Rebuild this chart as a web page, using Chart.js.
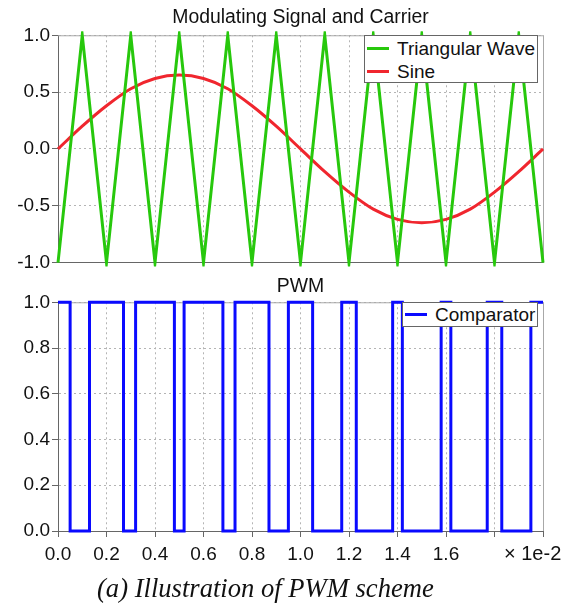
<!DOCTYPE html>
<html>
<head>
<meta charset="utf-8">
<script src="https://cdn.jsdelivr.net/npm/chart.js@4/dist/chart.umd.min.js"></script>
<style>
  html, body { margin:0; padding:0; background:#fff; width:574px; height:606px; overflow:hidden; }
  .box { position:absolute; left:0; width:601px; }
  .legend { position:absolute; background:#fff; border:1px solid #666; font:19px 'Liberation Sans', Arial, sans-serif; color:#111; box-sizing:border-box; }
  .legend .row { display:flex; align-items:center; height:23px; white-space:nowrap; }
  .legend .swatch { width:22px; height:3px; margin:0 8px 0 2px; }
  #mult { position:absolute; left:504px; top:542px; font:20px 'Liberation Sans', Arial, sans-serif; color:#111; line-height:22px; }
  #caption { position:absolute; left:97px; top:573px; font:italic 26.6px 'Liberation Serif', 'Times New Roman', serif; line-height:30px; color:#111; white-space:nowrap; }
</style>
</head>
<body>
<div class="box" style="top:0;height:276px"><canvas id="carrierChart"></canvas></div>
<div class="box" style="top:270px;height:302px"><canvas id="pwmChart"></canvas></div>
<div id="legTop" class="legend" style="left:364px;top:35px;width:174px;height:48px;padding-top:1px"></div>
<div id="legBot" class="legend" style="left:402px;top:302px;width:136px;height:25px;padding-top:0"></div>
<div id="mult">× 1e-2</div>
<div id="caption">(a) Illustration of PWM scheme</div>
<script>
// time axis is in units of 1e-2 s
const triX = [0, 0.1, 0.2, 0.3, 0.4, 0.5, 0.6, 0.7, 0.8, 0.9, 1.0, 1.1, 1.2, 1.3, 1.4, 1.5, 1.6, 1.7, 1.8, 1.9, 2.0];
const triY = [-1, 1, -1, 1, -1, 1, -1, 1, -1, 1, -1, 1, -1, 1, -1, 1, -1, 1, -1, 1, -1];
const sineX = [0, 0.1, 0.2, 0.3, 0.4, 0.5, 0.6, 0.7, 0.8, 0.9, 1.0, 1.1, 1.2, 1.3, 1.4, 1.5, 1.6, 1.7, 1.8, 1.9, 2.0];
const sineY = [0, 0.20, 0.38, 0.53, 0.62, 0.65, 0.62, 0.53, 0.38, 0.20, 0, -0.20, -0.38, -0.53, -0.62, -0.65, -0.62, -0.53, -0.38, -0.20, 0];
// comparator switching instants and the level that starts there
const pwmX = [0, 0.05, 0.13, 0.27, 0.32, 0.48, 0.52, 0.68, 0.73, 0.87, 0.95, 1.05, 1.17, 1.23, 1.38, 1.42, 1.58, 1.62, 1.77, 1.83, 1.95, 2.0];
const pwmY = [1, 0, 1, 0, 1, 0, 1, 0, 1, 0, 1, 0, 1, 0, 1, 0, 1, 0, 1, 0, 1, 1];
const xTicks = [0, 0.2, 0.4, 0.6, 0.8, 1.0, 1.2, 1.4, 1.6];

const FONT = { family:"'Liberation Sans', Arial, sans-serif", size:19 };
const pts = (xs, ys) => xs.map((x, i) => ({ x:x, y:ys[i] }));

// top and right edge of the plot frame
const frame = {
  id:'frame',
  beforeDatasetsDraw(chart) {
    const a = chart.chartArea, c = chart.ctx;
    c.save();
    c.strokeStyle = '#a8a8a8'; c.lineWidth = 1;
    c.beginPath();
    c.moveTo(a.left, a.top + 0.5); c.lineTo(a.right + 0.5, a.top + 0.5); c.lineTo(a.right + 0.5, a.bottom);
    c.stroke();
    c.restore();
  }
};

function axisX(showLabels) {
  return {
    type:'linear', min:0, max:2,
    afterBuildTicks: s => { s.ticks = [0,0.2,0.4,0.6,0.8,1.0,1.2,1.4,1.6,1.8,2.0].map(v => ({ value:v })); },
    afterFit: s => { s.height = showLabels ? 41 : 0; },
    ticks:{ display:showLabels, font:FONT, color:'#111', padding:6, maxRotation:0, autoSkip:false,
      callback: v => xTicks.some(t => Math.abs(t - v) < 1e-9) ? v.toFixed(1) : '' },
    grid:{ color:'#b4b4b4', drawTicks:showLabels, tickLength:6, tickColor:'#666', tickBorderDash:[] },
    border:{ display:true, color:'#666', width:1, dash:[2,3] }
  };
}
function axisY(min, max, step) {
  return {
    min:min, max:max,
    afterFit: s => { s.width = 58; },
    ticks:{ stepSize:step, font:FONT, color:'#111', padding:2, callback: v => v.toFixed(1) },
    grid:{ color:'#b4b4b4', tickLength:6, tickColor:'#666', tickBorderDash:[] },
    border:{ display:true, color:'#666', width:1, dash:[2,3] }
  };
}
// empty right-hand axis, keeps the title centred over the plot
const spacer = { position:'right', afterFit: s => { s.width = 58; }, ticks:{ display:false }, grid:{ display:false }, border:{ display:false } };
function title(text, top, bottom) {
  return { display:true, text:text, font:{ family:FONT.family, size:19.4, weight:'normal' }, color:'#111', padding:{ top:top, bottom:bottom } };
}
function htmlLegend(chart, id) {
  document.getElementById(id).innerHTML = chart.data.datasets.map(d =>
    `<div class="row"><span class="swatch" style="background:${d.borderColor}"></span>${d.label}</div>`).join('');
}

const carrier = new Chart(document.getElementById('carrierChart'), {
  type:'line',
  data:{ datasets:[
    { label:'Triangular Wave', data:pts(triX, triY), borderColor:'#27c80c', borderWidth:3, pointRadius:0, tension:0, clip:4 },
    { label:'Sine', data:pts(sineX, sineY), borderColor:'#f0262e', borderWidth:3, pointRadius:0, cubicInterpolationMode:'monotone', clip:4 }
  ]},
  options:{
    responsive:true, maintainAspectRatio:false, animation:false, events:[],
    layout:{ padding:{ left:0, right:0, top:0, bottom:5 } },
    plugins:{ legend:{ display:false }, tooltip:{ enabled:false }, title:title('Modulating Signal and Carrier', 6, 6) },
    scales:{ x:axisX(false), y:axisY(-1, 1, 0.5), y2:spacer }
  },
  plugins:[frame]
});

const pwm = new Chart(document.getElementById('pwmChart'), {
  type:'line',
  data:{ datasets:[
    { label:'Comparator', data:pts(pwmX, pwmY), borderColor:'#0a0aff', borderWidth:3, pointRadius:0, stepped:true, clip:4 }
  ]},
  options:{
    responsive:true, maintainAspectRatio:false, animation:false, events:[],
    layout:{ padding:{ left:0, right:0, top:0, bottom:0 } },
    plugins:{ legend:{ display:false }, tooltip:{ enabled:false }, title:title('PWM', 5, 4) },
    scales:{ x:axisX(true), y:axisY(0, 1, 0.2), y2:spacer }
  },
  plugins:[frame]
});

htmlLegend(carrier, 'legTop');
htmlLegend(pwm, 'legBot');
</script>
</body>
</html>
